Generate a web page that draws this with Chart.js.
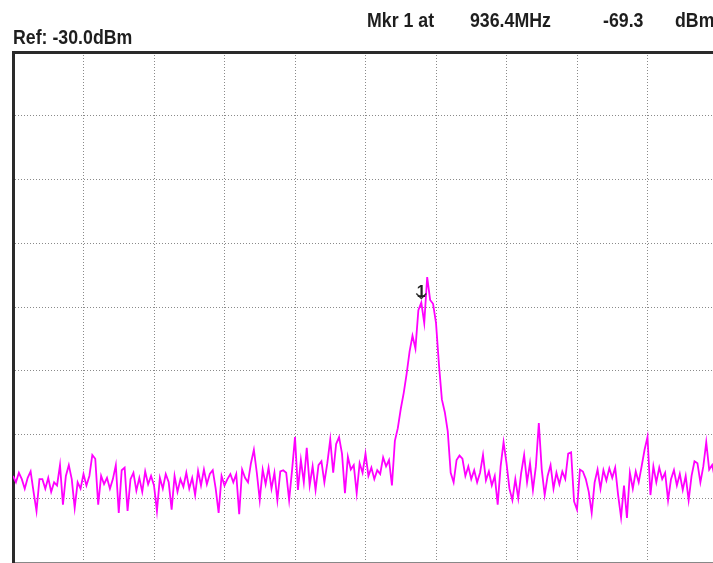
<!DOCTYPE html>
<html><head><meta charset="utf-8">
<script src="https://cdn.jsdelivr.net/npm/chart.js@4"></script>
<style>
html,body{margin:0;padding:0;background:#fff;overflow:hidden;width:713px;height:563px;}
#wrap{position:absolute;left:0;top:0;width:722px;height:563px;}
.t{position:absolute;font-family:'Liberation Sans Narrow','Liberation Sans',Arial,sans-serif;font-weight:bold;font-size:19.5px;color:#1e1e1e;white-space:nowrap;line-height:20px;transform:scaleX(0.91);transform-origin:0 0;}
</style></head><body>
<div id="wrap"><canvas id="c" width="722" height="563"></canvas></div>
<div class="t" style="left:13px;top:27px;">Ref: -30.0dBm</div>
<div class="t" style="left:367px;top:10px;">Mkr 1 at</div>
<div class="t" style="left:470px;top:10px;">936.4MHz</div>
<div class="t" style="left:603px;top:10px;">-69.3</div>
<div class="t" style="left:675px;top:10px;">dBm</div>
<script>
// Amplitude axis (dBm): reference level at top, 10 dB/div, 8 divisions visible
const refLevel = -30;
const bottomLevel = -110;
const dbPerDiv = 10;
// Trace: 241 sweep points across 10 horizontal divisions
const pointsPerDiv = 24;
const markerIndex = 139;
const markerLabel = "1";
const trace = [
 -96.5, -97.5, -96, -97, -98.5, -96.8, -95.8, -99, -102, -97,
 -97, -98.5, -96.8, -99, -97.5, -98, -94.8, -101, -96.5, -94.8,
 -97, -101.5, -97.5, -98.5, -96.2, -98, -96.5, -93.2, -93.8, -101,
 -96.5, -97.8, -96.8, -98.5, -97, -94.8, -102.3, -95.6, -95.2, -102,
 -97, -96, -98.8, -96.8, -99, -95.8, -97.8, -96.5, -98, -102,
 -96.8, -98.5, -96.2, -97.5, -101.8, -96.5, -99, -97, -98.2, -96,
 -98.5, -96.8, -99.5, -95.7, -98, -95.5, -97.8, -96.2, -95.6, -98.5,
 -102.3, -96.5, -98, -97, -96.2, -97.5, -96.2, -102.5, -95.5, -96.8,
 -97.5, -94.5, -92.4, -96, -100.3, -95.5, -97.8, -95.2, -98.5, -96,
 -100.3, -95.8, -95.6, -96, -100.3, -95.6, -90.4, -98.7, -94, -97.5,
 -92.1, -98, -95, -98.7, -94.8, -94.2, -97.5, -94.5, -90.8, -96,
 -91.5, -90.4, -93, -99.2, -93.5, -95.5, -94.8, -99.2, -94.5, -96,
 -93, -96.5, -95.2, -97, -95.6, -96.2, -93.6, -95, -94, -98,
 -91, -89, -86, -83.5, -80.5, -77, -74.5, -76.5, -70.5, -69.3,
 -72.5, -65.3, -68.9, -69.5, -72.5, -79, -84.5, -86.5, -89.5, -96,
 -97.5, -94, -93.3, -93.8, -96.5, -95, -97, -95.6, -97.5, -96,
 -93.2, -97.2, -95.8, -98, -96.5, -101, -95, -91.2, -94.5, -98.5,
 -100.3, -97, -100, -96, -93.2, -97.5, -94.5, -98.7, -95, -88.2,
 -95.5, -99.5, -96.5, -94.8, -98.5, -96, -97.8, -95.8, -97, -93,
 -92.8, -100.5, -101.8, -95.5, -95.8, -97, -99, -102.3, -97.5, -95.5,
 -98.5, -95.6, -97.2, -95.3, -96.8, -95.2, -99.5, -103, -98, -103.1,
 -96, -98.5, -95.8, -97.5, -95, -92.4, -90.4, -99.5, -95, -97.5,
 -95.2, -97, -96, -100.3, -97, -95.6, -98, -96.2, -98.7, -96.5,
 -100.3, -96.5, -94.2, -94.5, -97.5, -95, -91.2, -95.5, -94.8, -97, -96
];

const markerPlugin = {
  id: 'marker',
  afterDatasetsDraw(chart) {
    const pt = chart.getDatasetMeta(0).data[markerIndex];
    if (!pt) return;
    const ctx = chart.ctx;
    ctx.save();
    ctx.strokeStyle = '#333';
    ctx.lineWidth = 1.5;
    ctx.beginPath();
    ctx.moveTo(pt.x - 5, pt.y - 9);
    ctx.lineTo(pt.x, pt.y - 4);
    ctx.lineTo(pt.x + 5, pt.y - 9);
    ctx.stroke();
    ctx.fillStyle = '#222';
    ctx.font = 'bold 16px "Liberation Sans", sans-serif';
    ctx.textAlign = 'center';
    ctx.textBaseline = 'alphabetic';
    ctx.fillText(markerLabel, pt.x, pt.y - 6);
    ctx.restore();
  }
};

const zeroW = s => { s.width = 0; };
const zeroH = s => { s.height = 0; };
const gridDots = { color: '#8a8a8a', lineWidth: 1, drawTicks: false };

new Chart(document.getElementById('c'), {
  type: 'line',
  data: {
    datasets: [{
      data: trace.map((v, i) => ({ x: i, y: v })),
      borderColor: '#ff00ff',
      borderWidth: 1.8,
      pointRadius: 0,
      tension: 0,
      fill: false
    }]
  },
  options: {
    responsive: false,
    devicePixelRatio: 1,
    animation: false,
    layout: { padding: { left: 13, top: 52, right: 4, bottom: 1 } },
    plugins: { legend: { display: false }, tooltip: { enabled: false }, title: { display: false } },
    scales: {
      x: {
        type: 'linear', min: 0, max: (trace.length - 1),
        ticks: { display: false, stepSize: pointsPerDiv },
        grid: Object.assign({}, gridDots),
        border: { display: true, color: '#888', width: 1, dash: [1, 2] },
        afterFit: zeroH
      },
      xTop: {
        type: 'linear', position: 'top', min: 0, max: (trace.length - 1),
        ticks: { display: false },
        grid: { display: false, drawTicks: false },
        border: { display: true, color: '#2a2a2a', width: 3 },
        afterFit: zeroH
      },
      y: {
        min: bottomLevel, max: refLevel,
        ticks: { display: false, stepSize: dbPerDiv },
        grid: Object.assign({}, gridDots),
        border: { display: true, color: '#2a2a2a', width: 3, dash: [1, 2] },
        afterFit: zeroW
      }
    }
  },
  plugins: [markerPlugin]
});
</script>
</body></html>
